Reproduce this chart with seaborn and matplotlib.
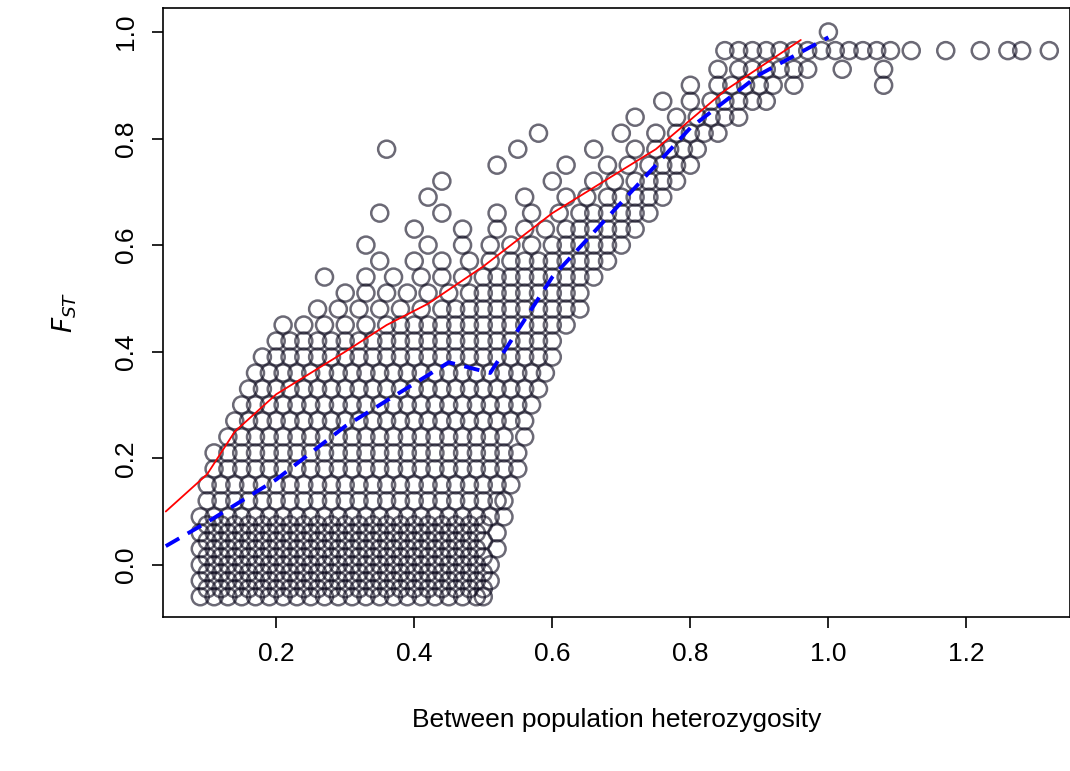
import matplotlib
matplotlib.use("Agg")
import matplotlib.pyplot as plt
import seaborn as sns
import pandas as pd

# Points, grouped by FST level (x = heterozygosity)
rows = {
 -0.06: [0.09,0.11,0.13,0.15,0.17,0.19,0.21,0.23,0.25,0.27,0.29,0.31,0.33,0.35,0.37,0.39,0.41,0.43,0.45,0.47,0.49,0.50],
 -0.045:[0.10,0.12,0.14,0.16,0.18,0.20,0.22,0.24,0.26,0.28,0.30,0.32,0.34,0.36,0.38,0.40,0.42,0.44,0.46,0.48,0.50],
 -0.03: [0.09,0.11,0.13,0.15,0.17,0.19,0.21,0.23,0.25,0.27,0.29,0.31,0.33,0.35,0.37,0.39,0.41,0.43,0.45,0.47,0.49,0.51],
 -0.015:[0.10,0.12,0.14,0.16,0.18,0.20,0.22,0.24,0.26,0.28,0.30,0.32,0.34,0.36,0.38,0.40,0.42,0.44,0.46,0.48,0.50],
  0.00: [0.09,0.11,0.13,0.15,0.17,0.19,0.21,0.23,0.25,0.27,0.29,0.31,0.33,0.35,0.37,0.39,0.41,0.43,0.45,0.47,0.49,0.51],
  0.015:[0.10,0.12,0.14,0.16,0.18,0.20,0.22,0.24,0.26,0.28,0.30,0.32,0.34,0.36,0.38,0.40,0.42,0.44,0.46,0.48,0.50],
  0.03: [0.09,0.11,0.13,0.15,0.17,0.19,0.21,0.23,0.25,0.27,0.29,0.31,0.33,0.35,0.37,0.39,0.41,0.43,0.45,0.47,0.49,0.52],
  0.045:[0.10,0.12,0.14,0.16,0.18,0.20,0.22,0.24,0.26,0.28,0.30,0.32,0.34,0.36,0.38,0.40,0.42,0.44,0.46,0.48,0.50],
  0.06: [0.09,0.11,0.13,0.15,0.17,0.19,0.21,0.23,0.25,0.27,0.29,0.31,0.33,0.35,0.37,0.39,0.41,0.43,0.45,0.47,0.49,0.52],
  0.075:[0.10,0.12,0.14,0.16,0.18,0.20,0.22,0.24,0.26,0.28,0.30,0.32,0.34,0.36,0.38,0.40,0.42,0.44,0.46,0.48,0.50],
  0.09: [0.09,0.11,0.13,0.15,0.17,0.19,0.21,0.23,0.25,0.27,0.29,0.31,0.33,0.35,0.37,0.39,0.41,0.43,0.45,0.47,0.49,0.51,0.53],
  0.12: [0.10,0.12,0.14,0.16,0.18,0.20,0.22,0.24,0.26,0.28,0.30,0.32,0.34,0.36,0.38,0.40,0.42,0.44,0.46,0.48,0.50,0.52,0.53],
  0.15: [0.10,0.12,0.14,0.16,0.18,0.20,0.22,0.24,0.26,0.28,0.30,0.32,0.34,0.36,0.38,0.40,0.42,0.44,0.46,0.48,0.50,0.52,0.54],
  0.18: [0.11,0.13,0.15,0.17,0.19,0.21,0.23,0.25,0.27,0.29,0.31,0.33,0.35,0.37,0.39,0.41,0.43,0.45,0.47,0.49,0.51,0.53,0.55],
  0.21: [0.11,0.13,0.15,0.17,0.19,0.21,0.23,0.25,0.27,0.29,0.31,0.33,0.35,0.37,0.39,0.41,0.43,0.45,0.47,0.49,0.51,0.53,0.55],
  0.24: [0.13,0.15,0.17,0.19,0.21,0.23,0.25,0.27,0.29,0.31,0.33,0.35,0.37,0.39,0.41,0.43,0.45,0.47,0.49,0.51,0.53,0.56],
  0.27: [0.14,0.16,0.18,0.20,0.22,0.24,0.26,0.28,0.30,0.32,0.34,0.36,0.38,0.40,0.42,0.44,0.46,0.48,0.50,0.52,0.54,0.56],
  0.30: [0.15,0.17,0.19,0.21,0.23,0.25,0.27,0.29,0.31,0.33,0.35,0.37,0.39,0.41,0.43,0.45,0.47,0.49,0.51,0.53,0.55,0.57],
  0.33: [0.16,0.18,0.20,0.22,0.24,0.26,0.28,0.30,0.32,0.34,0.36,0.38,0.40,0.42,0.44,0.46,0.48,0.50,0.52,0.54,0.56,0.58],
  0.36: [0.17,0.19,0.21,0.23,0.25,0.27,0.29,0.31,0.33,0.35,0.37,0.39,0.41,0.43,0.45,0.47,0.49,0.51,0.53,0.55,0.57,0.59],
  0.39: [0.18,0.20,0.22,0.24,0.26,0.28,0.30,0.32,0.34,0.36,0.38,0.40,0.42,0.44,0.46,0.48,0.50,0.52,0.54,0.56,0.58,0.60],
  0.42: [0.20,0.22,0.24,0.26,0.28,0.30,0.32,0.34,0.36,0.38,0.40,0.42,0.44,0.46,0.48,0.50,0.52,0.54,0.56,0.58,0.60],
  0.45: [0.21,0.24,0.27,0.30,0.33,0.36,0.38,0.40,0.42,0.44,0.46,0.48,0.50,0.52,0.54,0.56,0.58,0.60,0.62],
  0.48: [0.26,0.29,0.32,0.35,0.38,0.41,0.44,0.46,0.48,0.50,0.52,0.54,0.56,0.58,0.60,0.62,0.64],
  0.51: [0.30,0.33,0.36,0.39,0.42,0.45,0.48,0.50,0.52,0.54,0.56,0.58,0.60,0.62,0.64],
  0.54: [0.27,0.33,0.37,0.41,0.44,0.47,0.50,0.52,0.54,0.56,0.58,0.60,0.62,0.64,0.66],
  0.57: [0.35,0.40,0.44,0.48,0.51,0.54,0.56,0.58,0.60,0.62,0.64,0.66,0.68],
  0.60: [0.33,0.42,0.47,0.51,0.54,0.57,0.60,0.62,0.64,0.66,0.68,0.70],
  0.63: [0.40,0.47,0.52,0.56,0.59,0.62,0.64,0.66,0.68,0.70,0.72],
  0.66: [0.35,0.44,0.52,0.57,0.61,0.64,0.66,0.68,0.70,0.72,0.74],
  0.69: [0.42,0.56,0.62,0.65,0.68,0.70,0.72,0.74,0.76],
  0.72: [0.44,0.60,0.66,0.69,0.72,0.74,0.76,0.78],
  0.75: [0.52,0.62,0.68,0.71,0.74,0.76,0.78,0.80],
  0.78: [0.36,0.55,0.66,0.72,0.75,0.77,0.79,0.81],
  0.81: [0.58,0.70,0.75,0.78,0.80,0.82,0.84],
  0.84: [0.72,0.78,0.81,0.83,0.85,0.87],
  0.87: [0.76,0.80,0.83,0.85,0.87,0.89,0.91],
  0.90: [0.80,0.84,0.86,0.88,0.90,0.92,0.95,1.08],
  0.93: [0.84,0.87,0.89,0.91,0.93,0.95,0.97,1.02,1.08],
  0.965:[0.85,0.87,0.89,0.91,0.93,0.95,0.97,0.99,1.01,1.03,1.05,1.07,1.09,1.12,1.17,1.22,1.26,1.28,1.32],
  1.0:  [1.0],
}
het = [x for y, xs in rows.items() for x in xs]
fst = [y for y, xs in rows.items() for x in xs]

red_x = [0.04,0.10,0.14,0.20,0.30,0.36,0.42,0.50,0.60,0.75,0.85,0.96]
red_y = [0.10,0.17,0.25,0.32,0.40,0.45,0.49,0.56,0.66,0.78,0.89,0.985]
blue_x = [0.04,0.10,0.20,0.30,0.45,0.51,0.60,0.70,0.80,0.90,1.00]
blue_y = [0.035,0.08,0.16,0.26,0.38,0.36,0.54,0.68,0.82,0.92,0.99]

sns.set_style("white")
plt.rcParams['font.family'] = ['Liberation Sans', 'DejaVu Sans']
plt.rcParams['text.color'] = 'black'
plt.rcParams['axes.labelcolor'] = 'black'
plt.rcParams['xtick.color'] = 'black'
plt.rcParams['ytick.color'] = 'black'
fig = plt.figure(figsize=(10.70, 7.71), dpi=100)
ax = fig.add_axes([163/1070, 1-617/771, (1070-163)/1070, (617-8)/771])
df = pd.DataFrame({"het": het, "fst": fst})
sns.scatterplot(data=df, x="het", y="fst", ax=ax, s=150, facecolors="none",
                edgecolor=(0.03, 0.02, 0.10, 0.6), linewidth=1.8, marker="o")
ax.collections[0].set_facecolor("none")
sns.lineplot(x=red_x, y=red_y, ax=ax, color="red", lw=1.3, sort=False)
sns.lineplot(x=blue_x, y=blue_y, ax=ax, color="blue", lw=2.8, sort=False, linestyle=(0, (4, 2.5)))
ax.set_xlim(0.036, 1.35)
ax.set_ylim(-0.098, 1.045)
ax.set_xticks([0.2, 0.4, 0.6, 0.8, 1.0, 1.2])
ax.set_yticks([0.0, 0.2, 0.4, 0.6, 0.8, 1.0])
ax.set_xticklabels(["0.2", "0.4", "0.6", "0.8", "1.0", "1.2"])
ax.set_yticklabels(["0.0", "0.2", "0.4", "0.6", "0.8", "1.0"], rotation=90, va="center")
for s in ax.spines.values():
    s.set_color("black"); s.set_linewidth(1.2)
ax.tick_params(direction="out", length=8, width=1.2, labelsize=19, pad=10, left=True, bottom=True, colors="black")
ax.set_xlabel("Between population heterozygosity", fontsize=19, labelpad=30)
ax.set_ylabel("$F_{ST}$", fontsize=19, labelpad=25)
fig.savefig("out.png", dpi=100)
